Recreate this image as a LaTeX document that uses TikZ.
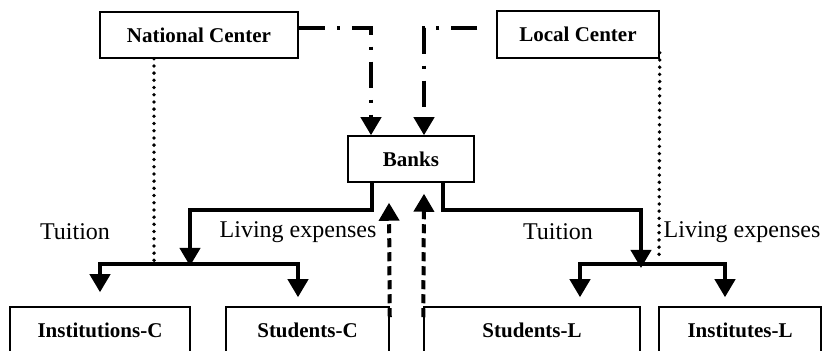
\documentclass[tikz,border=0pt]{standalone}
\usepackage{fontspec}
\setmainfont{Liberation Serif}
\usetikzlibrary{arrows.meta}
\tikzset{
  box/.style={draw,line width=0.75pt,inner sep=0pt,font=\fontsize{10.5}{12}\selectfont\bfseries},
  lbl/.style={inner sep=0pt,font=\fontsize{12}{14}\selectfont},
  tip/.style={-{Triangle[width=10pt,length=9pt]}},
  flow/.style={tip,line width=2pt},
  fund/.style={tip,line width=2pt,dash pattern=on 13pt off 6pt on 1.5pt off 6pt},
  back/.style={tip,line width=2pt,dash pattern=on 4.5pt off 2.5pt},
  link/.style={line width=1.9pt,line cap=round,dash pattern=on 0pt off 3.6pt}
}
\begin{document}
\begin{tikzpicture}[x=0.5pt,y=-0.5pt,line join=miter]
\useasboundingbox (0,0) rectangle (822,351);
\clip (0,0) rectangle (822,351);
% boxes
\node[box,minimum width=99pt,minimum height=23pt] (nat) at (199,35) {National Center};
\node[box,minimum width=81pt,minimum height=23.5pt] (loc) at (578,34.5) {Local Center};
\node[box,minimum width=63pt,minimum height=23pt] (banks) at (411,159) {Banks};
\node[box,minimum width=90pt,minimum height=23pt] (inst) at (100,330) {Institutions-C};
\node[box,minimum width=81.5pt,minimum height=23pt] (stuC) at (307.5,330) {Students-C};
\node[box,minimum width=108pt,minimum height=23pt] (stuL) at (532,330) {Students-L};
\node[box,minimum width=81pt,minimum height=23pt] (instL) at (740,330) {Institutes-L};
% labels
\node[lbl] (tuiC) at (75,232) {Tuition};
\node[lbl] (livC) at (298,232) {Living expenses};
\node[lbl] (tuiL) at (558,232) {Tuition};
\node[lbl] (livL) at (742,232) {Living expenses};
% junctions
\coordinate (jc) at (190,264);
\coordinate (jl) at (641,264);
\coordinate (endC) at (154,262);
\coordinate (endL) at (659,255);
% funds to banks
\draw[fund] ([yshift=3.5pt]nat.east) -| ([xshift=-20pt]banks.north);
\draw[fund] ([xshift=-9.5pt,yshift=3.25pt]loc.west) -| ([xshift=6.5pt]banks.north);
% payments from banks
\draw[flow] ([xshift=-19.5pt]banks.south) -- ++(0,27) -| ([yshift=-1pt]jc);
\draw[flow] ([xshift=16pt]banks.south) -- ++(0,27) -| ([yshift=-2pt]jl);
\draw[flow] (jc) -| ([yshift=7pt]inst.north);
\draw[flow] (jc) -| ([xshift=-4.75pt,yshift=4.5pt]stuC.north);
\draw[flow] (jl) -| ([xshift=24pt,yshift=4.5pt]stuL.north);
\draw[flow] (jl) -| ([xshift=-7.5pt,yshift=4.5pt]instL.north);
% repayments
\draw[back] ([yshift=-5.5pt]stuC.north east) -- ([xshift=-11pt,yshift=-10pt]banks.south);
\draw[back] ([yshift=-5.5pt]stuL.north west) -- ([xshift=6.5pt,yshift=-5.5pt]banks.south);
% supervision
\draw[link] ([xshift=-22.5pt]nat.south) -- (endC);
\draw[link] ([yshift=3pt]loc.south east) -- (endL);
\end{tikzpicture}
\end{document}
